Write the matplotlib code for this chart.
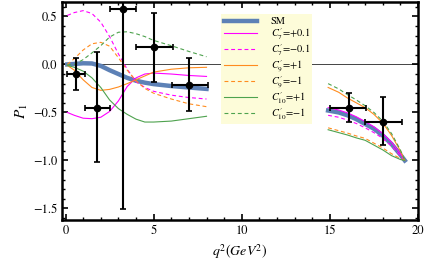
import numpy as np
import matplotlib
matplotlib.use("Agg")
import matplotlib.pyplot as plt
from matplotlib.ticker import MultipleLocator

plt.rcParams["font.family"] = ["STIXGeneral", "DejaVu Serif"]
plt.rcParams["mathtext.fontset"] = "stix"

# curves, low q^2 region
q_low = [0.1, 0.5, 1.0, 1.5, 2.0, 2.5, 3.0, 3.5, 4.0, 4.5, 5.0, 6.0, 7.0, 8.0]
sm_low = [0.0, 0.005, 0.012, 0.01, -0.015, -0.06, -0.10, -0.14, -0.17, -0.19, -0.205, -0.225, -0.24, -0.255]
c7p_low = [-0.50, -0.53, -0.56, -0.565, -0.55, -0.49, -0.38, -0.23, -0.14, -0.10, -0.09, -0.10, -0.115, -0.125]
c7m_low = [0.51, 0.54, 0.56, 0.53, 0.44, 0.29, 0.11, -0.05, -0.18, -0.24, -0.28, -0.32, -0.345, -0.36]
c9p_low = [-0.01, -0.06, -0.16, -0.24, -0.27, -0.26, -0.235, -0.20, -0.16, -0.12, -0.08, -0.05, -0.035, -0.03]
c9m_low = [0.0, 0.06, 0.15, 0.215, 0.23, 0.19, 0.07, -0.06, -0.17, -0.25, -0.30, -0.36, -0.41, -0.44]
c10p_low = [-0.01, -0.03, -0.07, -0.14, -0.24, -0.37, -0.46, -0.52, -0.57, -0.60, -0.60, -0.59, -0.565, -0.54]
c10m_low = [-0.005, 0.0, 0.05, 0.12, 0.195, 0.285, 0.335, 0.34, 0.32, 0.29, 0.25, 0.195, 0.135, 0.08]

# curves, high q^2 region
q_high = [14.9, 15.5, 16.0, 16.5, 17.0, 17.5, 18.0, 18.5, 19.0, 19.25]
sm_high = [-0.48, -0.50, -0.53, -0.57, -0.62, -0.67, -0.74, -0.83, -0.94, -1.0]
c7p_high = [-0.45, -0.475, -0.505, -0.545, -0.595, -0.65, -0.72, -0.81, -0.93, -1.0]
c7m_high = [-0.53, -0.55, -0.58, -0.615, -0.66, -0.71, -0.77, -0.85, -0.95, -1.0]
c9p_high = [-0.24, -0.29, -0.35, -0.40, -0.45, -0.52, -0.61, -0.74, -0.90, -1.0]
c9m_high = [-0.66, -0.69, -0.715, -0.745, -0.77, -0.82, -0.87, -0.93, -0.98, -1.0]
c10p_high = [-0.68, -0.71, -0.735, -0.765, -0.79, -0.84, -0.89, -0.95, -0.99, -1.0]
c10m_high = [-0.20, -0.255, -0.315, -0.37, -0.43, -0.50, -0.59, -0.72, -0.89, -1.0]

# measurements
q_pts = [0.58, 1.77, 3.28, 5.03, 7.0, 16.07, 18.0]
bin_lo = [0.08, 1.1, 2.5, 4.0, 6.05, 15.0, 17.0]
bin_hi = [1.1, 2.5, 4.0, 6.07, 8.06, 17.06, 19.1]
p1_pts = [-0.10, -0.45, 0.58, 0.18, -0.21, -0.45, -0.60]
err_dn = [0.17, 0.57, 2.09, 0.36, 0.28, 0.15, 0.24]
err_up = [0.17, 0.58, 2.09, 0.36, 0.28, 0.15, 0.26]

blue = "#5d81b6"
mag = "#ff00ff"
orng = "#ff8c1f"
grn = "#4ea24e"
dash = (0, (3.5, 2.5))

fig, ax = plt.subplots(figsize=(4.27, 2.74), dpi=100)
fig.subplots_adjust(left=62/427, right=418/427, top=1-2/274, bottom=1-220/274)

ax.axhline(0, color="#444444", lw=0.7, zorder=1)

curves = [
    (sm_low, sm_high, blue, "-", 3.2, "SM"),
    (c7p_low, c7p_high, mag, "-", 0.8, r"$C_7^{\prime}$=+0.1"),
    (c7m_low, c7m_high, mag, dash, 0.8, r"$C_7^{\prime}$=$-$0.1"),
    (c9p_low, c9p_high, orng, "-", 0.8, r"$C_9^{\prime}$=+1"),
    (c9m_low, c9m_high, orng, dash, 0.8, r"$C_9^{\prime}$=$-$1"),
    (c10p_low, c10p_high, grn, "-", 0.8, r"$C_{10}^{\prime}$=+1"),
    (c10m_low, c10m_high, grn, dash, 0.8, r"$C_{10}^{\prime}$=$-$1"),
]
handles = []
for lo, hi, c, ls, lw, lab in curves:
    h, = ax.plot(q_low, lo, color=c, ls=ls, lw=lw, label=lab, zorder=2)
    ax.plot(q_high, hi, color=c, ls=ls, lw=lw, zorder=2)
    handles.append(h)

q_pts = np.array(q_pts)
xerr = [q_pts - np.array(bin_lo), np.array(bin_hi) - q_pts]
ax.errorbar(q_pts, p1_pts, xerr=xerr, yerr=[err_dn, err_up], fmt="o", color="black",
            ms=4.5, lw=1.5, capsize=2.5, capthick=1.2, zorder=5)

ax.set_xlim(-0.2, 20)
ax.set_ylim(-1.62, 0.65)
ax.xaxis.set_major_locator(MultipleLocator(5))
ax.xaxis.set_minor_locator(MultipleLocator(1))
ax.yaxis.set_major_locator(MultipleLocator(0.5))
ax.yaxis.set_minor_locator(MultipleLocator(0.1))
ax.tick_params(which="both", direction="in", top=True, right=True, labelsize=9)
ax.tick_params(which="major", length=4, width=1.2)
ax.tick_params(which="minor", length=2, width=1.0)
for s in ax.spines.values():
    s.set_linewidth(1.8)

ax.set_xlabel(r"$q^2(GeV^2)$", fontsize=10)
ax.set_ylabel(r"$P_1$", fontsize=11, labelpad=2)

leg = ax.legend(handles=handles, loc="upper left", bbox_to_anchor=(0.447, 0.945),
                fontsize=7.5, frameon=True, facecolor="#fdfcd9", edgecolor="none",
                framealpha=1, fancybox=False, handlelength=3.2, handletextpad=1.3,
                labelspacing=0.0, borderpad=0.25, borderaxespad=0)

plt.savefig("out.png", dpi=100)
